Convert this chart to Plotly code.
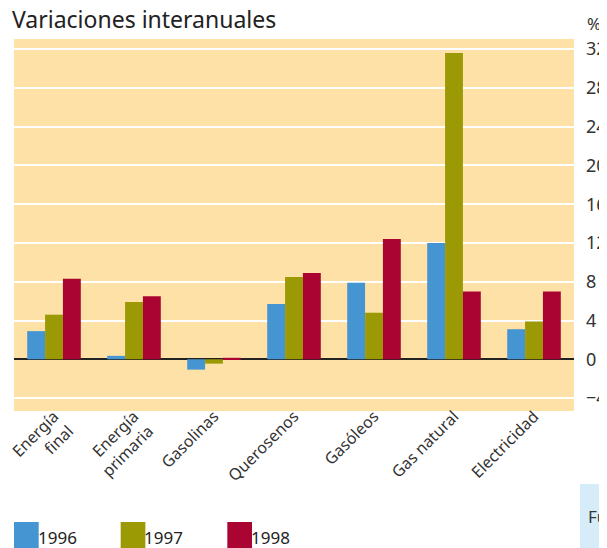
import plotly.graph_objects as go

categories = ["Energía<br>final", "Energía<br>primaria", "Gasolinas", "Querosenos",
              "Gasóleos", "Gas natural", "Electricidad"]
years = ["1996", "1997", "1998"]
v1996 = [2.9, 0.35, -1.07, 5.7, 7.9, 12.0, 3.1]
v1997 = [4.6, 5.9, -0.45, 8.5, 4.8, 31.6, 3.9]
v1998 = [8.3, 6.5, 0.15, 8.9, 12.4, 7.0, 7.0]
colors = ["#4495D1", "#9C9A04", "#A90432"]
y_ticks = [-4, 0, 4, 8, 12, 16, 20, 24, 28, 32]

# the page body has an 8px margin, so figure coords = page coords - 8
OFF = 8
W, H = 607 - OFF, 548 - OFF
L, R, T, B = 8 - OFF, 575 - OFF, 39 - OFF, 411 - OFF
FONT = "Noto Sans"

fig = go.Figure()
for name, vals, c in zip(years, [v1996, v1997, v1998], colors):
    fig.add_trace(go.Bar(x=categories, y=vals, name=name, marker=dict(color=c, line=dict(width=0)),
                         showlegend=False))

def px2paper(x, y):
    # x, y in page pixels
    x -= OFF
    y -= OFF
    return (x - L) / (R - L), (B - y) / (B - T)

shapes = []
annotations = []
# custom legend
leg_x = [8, 116, 224]
for (lx, name, c) in zip(leg_x, years, colors):
    x0, y0 = px2paper(lx, 548)
    x1, y1 = px2paper(lx + 25, 522)
    shapes.append(dict(type="rect", xref="paper", yref="paper", x0=x0, x1=x1, y0=y0, y1=y1,
                       fillcolor=c, line=dict(width=0), layer="above"))
    ax, ay = px2paper(lx + 22, 548)
    annotations.append(dict(text=name, xref="paper", yref="paper", x=ax, y=ay, xanchor="left",
                            yanchor="bottom", showarrow=False, yshift=-3,
                            font=dict(family=FONT, size=17, color="#222")))
# Fuente box (cropped)
x0, y0 = px2paper(581, 560)
x1, y1 = px2paper(640, 484)
shapes.append(dict(type="rect", xref="paper", yref="paper", x0=x0, x1=x1, y0=y0, y1=y1,
                   fillcolor="#D6ECF9", line=dict(width=0)))
fx, fy = px2paper(587, 516)
annotations.append(dict(text="Fuente", xref="paper", yref="paper", x=fx, y=fy, xanchor="left",
                        yanchor="middle", showarrow=False,
                        font=dict(family=FONT, size=17, color="#333")))
# title and unit
tx, ty = px2paper(4, 31)
annotations.append(dict(text="Variaciones interanuales", xref="paper", yref="paper", x=tx, y=ty,
                        xanchor="left", yanchor="bottom", showarrow=False, yshift=-6,
                        font=dict(family=FONT, size=23, color="#222")))
ux, uy = px2paper(586, 31)
annotations.append(dict(text="%", xref="paper", yref="paper", x=ux, y=uy,
                        xanchor="left", yanchor="bottom", showarrow=False, yshift=-6,
                        font=dict(family=FONT, size=17, color="#333")))

fig.update_layout(
    width=W, height=H,
    margin=dict(l=L, r=W - R, t=T, b=H - B, pad=0),
    paper_bgcolor="white", plot_bgcolor="#FDE1A6",
    barmode="group", bargap=0.33, bargroupgap=0,
    shapes=shapes, annotations=annotations,
    xaxis=dict(tickangle=-45, tickfont=dict(family=FONT, size=16, color="#333"),
               showgrid=False, ticks="", showline=False, ticklabelstandoff=-8),
    yaxis=dict(side="right", range=[-5.34, 33.05], tickvals=y_ticks,
               tickfont=dict(family=FONT, size=18, color="#333"),
               showgrid=True, gridcolor="white", gridwidth=2,
               zeroline=True, zerolinecolor="#222", zerolinewidth=2,
               ticks="", ticklabelstandoff=11, showline=False),
)
fig.write_html("out.html")
